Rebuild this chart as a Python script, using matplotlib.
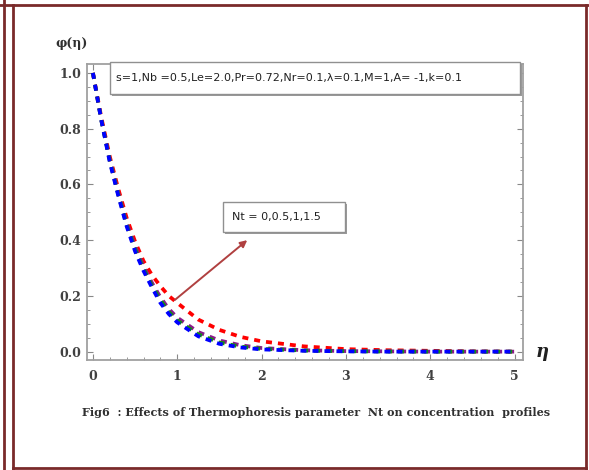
import matplotlib
matplotlib.use("Agg")
import matplotlib.pyplot as plt
import matplotlib.patches as patches
from matplotlib.lines import Line2D
from matplotlib.ticker import MultipleLocator

# ==========================================
# DATA
# ==========================================
eta = [0.0, 0.1, 0.2, 0.3, 0.4, 0.5, 0.6, 0.7, 0.8, 0.9, 1.0,
       1.25, 1.5, 1.75, 2.0, 2.5, 3.0, 3.5, 4.0, 4.5, 5.0]

phi_nt0 = [1.0, 0.83, 0.68, 0.56, 0.45, 0.36, 0.29, 0.23, 0.175, 0.135, 0.105,
           0.055, 0.028, 0.015, 0.008, 0.003, 0.001, 0.0, 0.0, 0.0, 0.0]
phi_nt05 = [1.0, 0.83, 0.685, 0.565, 0.455, 0.368, 0.297, 0.237, 0.185, 0.143, 0.112,
            0.062, 0.033, 0.018, 0.010, 0.004, 0.0015, 0.0005, 0.0, 0.0, 0.0]
phi_nt1 = [1.0, 0.83, 0.69, 0.57, 0.462, 0.377, 0.305, 0.247, 0.195, 0.153, 0.122,
           0.070, 0.040, 0.023, 0.013, 0.005, 0.002, 0.001, 0.0, 0.0, 0.0]
phi_nt15 = [1.0, 0.84, 0.70, 0.585, 0.48, 0.395, 0.325, 0.275, 0.235, 0.20, 0.175,
            0.115, 0.078, 0.053, 0.037, 0.019, 0.009, 0.005, 0.003, 0.001, 0.0]

# drawn back to front: red, purple, green, blue on top
series = [phi_nt15, phi_nt1, phi_nt05, phi_nt0]
series_colors = ["#ff0000", "#8b1a8b", "#109010", "#0000ff"]

x_ticks = [0, 1, 2, 3, 4, 5]
y_ticks = [0.0, 0.2, 0.4, 0.6, 0.8, 1.0]

params_text = "s=1,Nb =0.5,Le=2.0,Pr=0.72,Nr=0.1,λ=0.1,M=1,A= -1,k=0.1"
nt_text = "Nt = 0,0.5,1,1.5"
caption = "Fig6  : Effects of Thermophoresis parameter  Nt on concentration  profiles"

# ==========================================
# FIGURE
# ==========================================
W, H = 589, 470
fig = plt.figure(figsize=(W / 100, H / 100), dpi=100)


def fx(x):
    return x / W


def fy(y):
    return 1 - y / H


ax = fig.add_axes([fx(87), fy(360), fx(523) - fx(87), fy(64) - fy(360)])

for ys, c in zip(series, series_colors):
    ax.plot(eta, ys, color=c, linewidth=2.7, linestyle=(0, (1.6, 1.6)),
            dash_capstyle="butt")

ax.set_xlim(-0.07, 5.1)
ax.set_ylim(-0.03, 1.032)

ax.xaxis.set_major_locator(MultipleLocator(1))
ax.xaxis.set_minor_locator(MultipleLocator(0.2))
ax.yaxis.set_major_locator(MultipleLocator(0.2))
ax.yaxis.set_minor_locator(MultipleLocator(0.05))
ax.set_xticks(x_ticks)
ax.set_yticks(y_ticks)
ax.set_yticklabels([f"{v:.1f}" for v in y_ticks])

ax.tick_params(which="both", direction="in", top=True, right=True, color="#888888")
ax.tick_params(which="major", length=4, width=0.8)
ax.tick_params(which="minor", length=2, width=0.6)
ax.tick_params(axis="x", pad=7)
ax.tick_params(axis="y", pad=4)
for lab in ax.get_xticklabels() + ax.get_yticklabels():
    lab.set_fontfamily("DejaVu Serif")
    lab.set_fontweight("bold")
    lab.set_fontsize(9)
    lab.set_color("#404040")
for sp in ax.spines.values():
    sp.set_color("#a0a0a0")
    sp.set_linewidth(1.3)

# axis labels
fig.text(fx(55), fy(43), "φ(η)", fontsize=9, family="DejaVu Serif",
         fontweight="bold", color="#303030", va="center", ha="left")
fig.text(fx(536), fy(352), "η", fontsize=13, family="DejaVu Serif",
         style="italic", fontweight="bold", color="#202020", va="center", ha="left")


def shadow_box(x0, y0, x1, y1):
    # white box with a grey drop shadow, pixel coords
    shadow = patches.Rectangle((fx(x0 + 2), fy(y1 + 2)), fx(x1 - x0), fy(y0) - fy(y1),
                               transform=fig.transFigure, facecolor="#9a9a9a",
                               edgecolor="none", zorder=5)
    box = patches.Rectangle((fx(x0), fy(y1)), fx(x1 - x0), fy(y0) - fy(y1),
                            transform=fig.transFigure, facecolor="white",
                            edgecolor="#909090", linewidth=1.0, zorder=6)
    fig.add_artist(shadow)
    fig.add_artist(box)


shadow_box(110, 62, 520, 94)
fig.text(fx(116), fy(78), params_text, fontsize=8, color="#202020",
         va="center", ha="left", zorder=7)

shadow_box(223, 202, 345, 232)
fig.text(fx(232), fy(217), nt_text, fontsize=8, color="#202020",
         va="center", ha="left", zorder=7)

# arrow from the red curve to the Nt box
ax.annotate("", xy=(1.83, 0.40), xytext=(0.97, 0.185),
            arrowprops=dict(arrowstyle="-|>", color="#b04040", lw=1.4,
                            mutation_scale=10, shrinkA=0, shrinkB=0))

fig.text(fx(82), fy(413), caption, fontsize=8, family="DejaVu Serif",
         fontweight="bold", color="#303030", va="center", ha="left")

# maroon page frame
frame_col = "#7a2a2a"
frame_lines = [
    ([0, 589], [5, 5]),
    ([4, 4], [0, 470]),
    ([13, 13], [5, 470]),
    ([586, 586], [5, 470]),
    ([13, 586], [468, 468]),
]
for xs, ys in frame_lines:
    fig.add_artist(Line2D([fx(v) for v in xs], [fy(v) for v in ys],
                          transform=fig.transFigure, color=frame_col, linewidth=2.0))

fig.savefig("out.png", dpi=100)
